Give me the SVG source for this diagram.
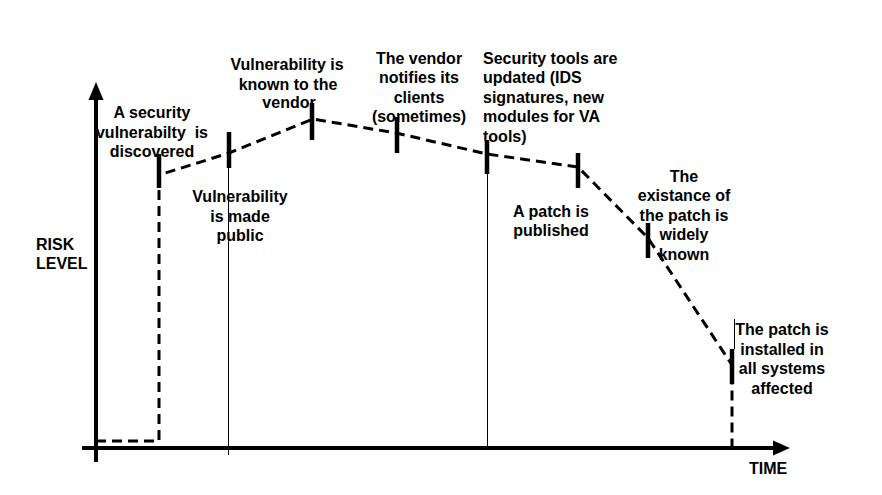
<svg xmlns="http://www.w3.org/2000/svg" width="882" height="495" viewBox="0 0 882 495">
<style>
text{font-family:"Liberation Sans",Arial,sans-serif;font-weight:bold;font-size:16px;fill:#000}
.c{text-anchor:middle}
.axis{stroke:#000;stroke-width:4;fill:none}
.tick{stroke:#000;stroke-width:4.5;fill:none}
.thin{stroke:#000;stroke-width:1;fill:none}
.risk{stroke:#000;stroke-width:3;fill:none;stroke-dasharray:10 6}
</style>
<rect width="882" height="495" fill="#fff"/>
<g id="axes">
<line class="axis" x1="96" y1="462" x2="96" y2="96"/>
<polygon points="96,82 88.5,100 103.5,100" fill="#000"/>
<line class="axis" x1="82" y1="448" x2="776" y2="448"/>
<polygon points="790,448 773,440.5 773,455.5" fill="#000"/>
</g>
<g id="connectors">
<path class="risk" d="M96,441 H159 V175 L229,153 L313,119 L396,133 L487,154 L578,167 L648,238 L732,365 V447"/>
<line class="thin" x1="228.5" y1="168" x2="228.5" y2="455"/>
<line class="thin" x1="487.5" y1="174" x2="487.5" y2="447"/>
<line class="thin" x1="734.5" y1="319" x2="734.5" y2="349"/>
</g>
<g id="n1">
<line class="tick" x1="159" y1="154" x2="159" y2="188"/>
<text class="c" x="152" y="118">A security</text>
<text class="c" x="152" y="137.5" xml:space="preserve">vulnerabilty  is</text>
<text class="c" x="152" y="157">discovered</text>
</g>
<g id="n2">
<line class="tick" x1="229" y1="132" x2="229" y2="168"/>
<text class="c" x="240" y="202">Vulnerability</text>
<text class="c" x="240" y="221.5">is made</text>
<text class="c" x="240" y="241">public</text>
</g>
<g id="n3">
<line class="tick" x1="312" y1="103" x2="312" y2="140"/>
<text class="c" x="287" y="70">Vulnerability is</text>
<text class="c" x="288" y="89.5">known to the</text>
<text class="c" x="289" y="108">vendor</text>
</g>
<g id="n4">
<line class="tick" x1="397" y1="117" x2="397" y2="153"/>
<text class="c" x="419" y="63.5">The vendor</text>
<text class="c" x="419" y="83">notifies its</text>
<text class="c" x="419" y="102.5">clients</text>
<text class="c" x="419" y="122">(sometimes)</text>
</g>
<g id="n5">
<line class="tick" x1="487" y1="140" x2="487" y2="174"/>
<text x="483" y="63.5">Security tools are</text>
<text x="483" y="83">updated (IDS</text>
<text x="483" y="102.5">signatures, new</text>
<text x="483" y="122">modules for VA</text>
<text x="483" y="141.5">tools)</text>
</g>
<g id="n6">
<line class="tick" x1="578" y1="153" x2="578" y2="188"/>
<text class="c" x="551" y="216.5">A patch is</text>
<text class="c" x="551" y="236">published</text>
</g>
<g id="n7">
<line class="tick" x1="648" y1="223" x2="648" y2="258"/>
<text class="c" x="684" y="181.5">The</text>
<text class="c" x="684" y="201">existance of</text>
<text class="c" x="684" y="220.5">the patch is</text>
<text class="c" x="684" y="240">widely</text>
<text class="c" x="684" y="259.5">known</text>
</g>
<g id="n8">
<line class="tick" x1="732" y1="349" x2="732" y2="384"/>
<text class="c" x="782" y="335">The patch is</text>
<text class="c" x="782" y="354.5">installed in</text>
<text class="c" x="782" y="374">all systems</text>
<text class="c" x="782" y="393.5">affected</text>
</g>
<g id="labels">
<text x="36" y="249.5">RISK</text>
<text x="36" y="269">LEVEL</text>
<text x="749" y="473.5">TIME</text>
</g>
</svg>
